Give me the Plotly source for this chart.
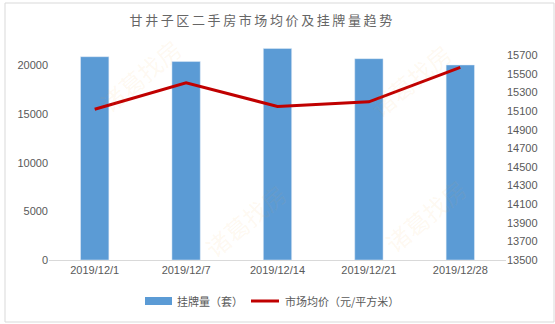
import plotly.graph_objects as go

dates = ["2019/12/1", "2019/12/7", "2019/12/14", "2019/12/21", "2019/12/28"]
listings = [20900, 20400, 21750, 20700, 20050]
avg_price = [15120, 15405, 15150, 15200, 15570]
right_ticks = [13500, 13700, 13900, 14100, 14300, 14500, 14700, 14900, 15100, 15300, 15500, 15700]
left_ticks = [0, 5000, 10000, 15000, 20000]

CJK = "Noto Sans CJK SC"
NUM = "Liberation Sans, Arial, sans-serif"
GREY = "#595959"

fig = go.Figure()
fig.add_trace(go.Bar(x=dates, y=listings, name="挂牌量（套）", marker_color="#5B9BD5",
                     width=0.31, yaxis="y"))
fig.add_trace(go.Scatter(x=dates, y=avg_price, name="市场均价（元/平方米）", mode="lines",
                         line=dict(color="#C00000", width=3), yaxis="y2"))

title = "\u2009".join("甘井子区二手房市场均价及挂牌量趋势")

fig.update_layout(
    width=555, height=324,
    margin=dict(l=49, r=49, t=46, b=64),
    paper_bgcolor="white", plot_bgcolor="white",
    showlegend=False,
    title=dict(text=title, x=0.47, xanchor="center", y=1 - 20 / 324, yanchor="middle",
               font=dict(family=CJK, size=13, color="#666666")),
    xaxis=dict(type="category", range=[-0.5, 4.5], showgrid=False, showline=True,
               linecolor="#D9D9D9", linewidth=1, ticks="", tickfont=dict(family=NUM, size=11, color=GREY)),
    yaxis=dict(range=[0, 22000], tickvals=left_ticks, tickformat="d", showgrid=False, zeroline=False,
               showline=False, ticks="", tickfont=dict(family=NUM, size=11, color=GREY)),
    yaxis2=dict(range=[13500, 15800], tickvals=right_ticks, tickformat="d", overlaying="y", side="right",
                showgrid=False, zeroline=False, showline=False, ticks="",
                tickfont=dict(family=NUM, size=11, color=GREY)),
)

def px_x(p):
    return (p - 49) / 457

def px_y(p):
    return (260 - p) / 214

# outer border
fig.add_shape(type="rect", xref="paper", yref="paper",
              x0=px_x(5), x1=px_x(554), y0=px_y(322), y1=px_y(3),
              line=dict(color="#D9D9D9", width=1), fillcolor="rgba(0,0,0,0)", layer="below")

# custom legend
ly = px_y(301)
fig.add_shape(type="rect", xref="paper", yref="paper", x0=px_x(145), x1=px_x(172),
              y0=px_y(305), y1=px_y(297), fillcolor="#5B9BD5", line=dict(width=0))
fig.add_annotation(xref="paper", yref="paper", x=px_x(175), y=ly, xanchor="left", yanchor="middle",
                   text="挂牌量（套）", showarrow=False, font=dict(family=CJK, size=11, color=GREY))
fig.add_shape(type="line", xref="paper", yref="paper", x0=px_x(251), x1=px_x(279),
              y0=ly, y1=ly, line=dict(color="#C00000", width=3))
fig.add_annotation(xref="paper", yref="paper", x=px_x(283), y=ly, xanchor="left", yanchor="middle",
                   text="市场均价（元/平方米）", showarrow=False, font=dict(family=CJK, size=11, color=GREY))

# faint watermark
for wx, wy in [(140, 75), (410, 80), (245, 220), (425, 215)]:
    fig.add_annotation(xref="paper", yref="paper", x=px_x(wx), y=px_y(wy), text="诸葛找房",
                       showarrow=False, textangle=-40, xanchor="center", yanchor="middle",
                       font=dict(family=CJK, size=24, color="rgba(245,170,60,0.08)"))

fig.write_html("out.html")
